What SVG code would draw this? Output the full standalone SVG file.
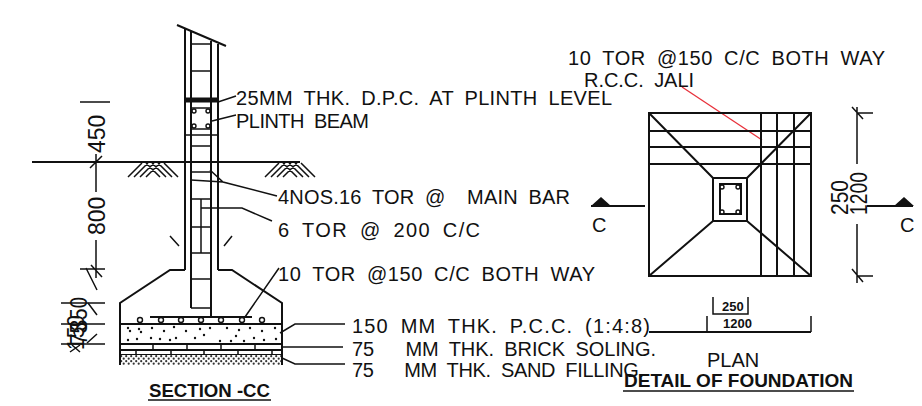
<svg xmlns="http://www.w3.org/2000/svg" width="922" height="406" viewBox="0 0 922 406">
<style>
.t{font-family:"Liberation Sans",Arial,sans-serif;font-size:20px;word-spacing:5px;fill:#111}
.r{font-family:"Liberation Sans",Arial,sans-serif;font-size:23px;fill:#111}
.b{font-family:"Liberation Sans",Arial,sans-serif;font-size:19px;font-weight:700;fill:#111}
.s{font-family:"Liberation Sans",Arial,sans-serif;font-size:13px;font-weight:700;fill:#111}
.l{fill:none;stroke:#111;stroke-width:1.5}
.m{fill:none;stroke:#111;stroke-width:2}
.c{fill:#fff;stroke:#111;stroke-width:1.4}
</style>
<defs>
<pattern id="sand" width="5" height="5" patternUnits="userSpaceOnUse"><rect width="5" height="5" fill="#fff"/><circle cx="1.2" cy="1.2" r="1.1" fill="#333"/><circle cx="3.7" cy="3.7" r="1.1" fill="#333"/></pattern>
<g id="grass"><path class="l" d="M0 14L14 0M6 14L20 0M12 14L26 0M18 14L32 0M18 0L32 14M24 0L38 14M30 0L44 14M36 0L50 14"/></g>
</defs>
<g id="section-wall">
<path class="m" d="M177 25L226 46M185 29V270M191 31V308M211 41V318M218 44V270"/>
<path class="l" d="M191 44H211M191 71H211M185 135H218M191 146H211M191 172H211M191 199H211M191 227H211M191 253H211M191 279H211M191 308H211"/>
<path stroke="#111" stroke-width="5" d="M184 100H219"/>
<path class="l" d="M201 199V253"/>
<path class="l" d="M192 108H210M192 129H210"/>
<circle class="c" cx="194" cy="111" r="2"/><circle class="c" cx="208" cy="111" r="2"/><circle class="c" cx="194" cy="126" r="2"/><circle class="c" cx="208" cy="126" r="2"/>
</g>
<g id="section-footing">
<path class="m" d="M185 270H170L120 303V365M218 270H232L282 303V365M120 324H282M120 344H282M120 350H282M120 355H282M150 317H252"/>
<rect x="120" y="355" width="162" height="10" fill="url(#sand)"/>
<path class="m" d="M120 355V365M282 355V365"/>
<path class="l" d="M153 344V350M187 344V350M221 344V350M255 344V350M136 350V355M171 350V355M204 350V355M238 350V355M272 350V355"/>
<g class="c"><circle cx="140" cy="320" r="2.5"/><circle cx="161" cy="320" r="2.5"/><circle cx="181" cy="320" r="2.5"/><circle cx="201" cy="320" r="2.5"/><circle cx="221" cy="320" r="2.5"/><circle cx="242" cy="320" r="2.5"/><circle cx="262" cy="320" r="2.5"/></g>
<g fill="#111"><circle cx="128" cy="328" r="1.2"/><circle cx="139" cy="329" r="1.2"/><circle cx="152" cy="328" r="1.2"/><circle cx="164" cy="331" r="1.2"/><circle cx="174" cy="327" r="1.2"/><circle cx="186" cy="331" r="1.2"/><circle cx="200" cy="329" r="1.2"/><circle cx="210" cy="328" r="1.2"/><circle cx="227" cy="328" r="1.2"/><circle cx="239" cy="330" r="1.2"/><circle cx="250" cy="328" r="1.2"/><circle cx="262" cy="331" r="1.2"/><circle cx="275" cy="328" r="1.2"/><circle cx="130" cy="331" r="1.2"/><circle cx="141" cy="332" r="1.2"/><circle cx="128" cy="340" r="1.2"/><circle cx="137" cy="339" r="1.2"/><circle cx="151" cy="338" r="1.2"/><circle cx="160" cy="339" r="1.2"/><circle cx="170" cy="340" r="1.2"/><circle cx="176" cy="338" r="1.2"/><circle cx="195" cy="338" r="1.2"/><circle cx="204" cy="335" r="1.2"/><circle cx="220" cy="341" r="1.2"/><circle cx="231" cy="341" r="1.2"/><circle cx="236" cy="336" r="1.2"/><circle cx="244" cy="341" r="1.2"/><circle cx="254" cy="338" r="1.2"/><circle cx="264" cy="340" r="1.2"/><circle cx="276" cy="339" r="1.2"/></g>
<path class="l" d="M170 236L179 246M232 236L224 246"/>
</g>
<g id="ground">
<path class="m" d="M32 162H300"/>
<use href="#grass" x="128" y="163"/>
<use href="#grass" x="265" y="163"/>
</g>
<g id="connectors">
<path class="l" d="M218 102L236 96M212 121L236 115M210 170L223 182L277 196M191 180L223 182M201 208H242L272 221M245 317L279 268M280 333L295 324H345M282 347H343M282 358L295 364H345"/>
<path fill="none" stroke="#e8303a" stroke-width="1.3" d="M682 87L762 140"/>
</g>
<g id="section-dims">
<path class="l" d="M80 102H110M96 154V192M90 168L102 156M96 240V278M80 269H105M86 268L97 290M91 265L102 277M61 303H105M61 324H105M61 344H105"/>
<path class="l" d="M88 303L97 315M97 334L87 343M70 352L80 345M72 345L80 352"/>
<text class="r" transform="translate(105 153) rotate(-90)">450</text>
<text class="r" transform="translate(105 235) rotate(-90)">800</text>
<text class="r" transform="translate(84 350) rotate(-90)" style="font-size:24px" textLength="35" lengthAdjust="spacingAndGlyphs">150</text>
<text class="r" transform="translate(87 345) rotate(-90)" style="font-size:24px" textLength="23" lengthAdjust="spacingAndGlyphs">75</text>
<text class="r" transform="translate(87 331) rotate(-90)" style="font-size:24px" textLength="34" lengthAdjust="spacingAndGlyphs">350</text>
</g>
<g id="section-labels">
<text class="t" x="236" y="105" textLength="376" lengthAdjust="spacing">25MM THK. D.P.C. AT PLINTH LEVEL</text>
<text class="t" x="236" y="128" textLength="133" lengthAdjust="spacing">PLINTH BEAM</text>
<text class="t" x="278" y="204" textLength="292" lengthAdjust="spacing" xml:space="preserve">4NOS.16 TOR @  MAIN BAR</text>
<text class="t" x="278" y="237" textLength="202" lengthAdjust="spacing">6 TOR @ 200 C/C</text>
<text class="t" x="278" y="281" textLength="317" lengthAdjust="spacing">10 TOR @150 C/C BOTH WAY</text>
<text class="t" x="352" y="333" textLength="298" lengthAdjust="spacing">150 MM THK. P.C.C. (1:4:8)</text>
<text class="t" x="352" y="356" textLength="304" lengthAdjust="spacing" xml:space="preserve">75   MM THK. BRICK SOLING.</text>
<text class="t" x="352" y="377" textLength="292" lengthAdjust="spacing" xml:space="preserve">75   MM THK. SAND FILLING.</text>
<text class="b" x="149" y="397" textLength="121" lengthAdjust="spacingAndGlyphs" style="font-size:18px">SECTION -CC</text>
<path class="l" d="M148 400H271"/>
</g>
<g id="plan">
<rect class="m" x="649" y="113" width="162" height="163"/>
<path class="m" d="M649 131H811M649 147H811M649 164H811M761 113V276M777 113V276M794 113V276"/>
<path class="m" d="M649 113L713 178M811 113L747 178M649 276L713 221M811 276L747 221"/>
<rect class="m" x="713" y="178" width="34" height="43"/>
<rect class="m" x="720" y="184" width="21" height="30"/>
<g class="c"><circle cx="722" cy="187" r="2"/><circle cx="738" cy="187" r="2"/><circle cx="722" cy="212" r="2"/><circle cx="738" cy="212" r="2"/></g>
</g>
<g id="plan-dims">
<path class="l" d="M857 113H873M857 276H873M857 107V164M857 224V283M852 107L863 119M852 269L863 282"/>
<path class="m" d="M649 332H811"/>
<path class="l" d="M713 297V314H748V297M707 316V332M811 316V332"/>
<text class="r" transform="translate(848 215) rotate(-90)" style="font-size:24px" textLength="35" lengthAdjust="spacingAndGlyphs">250</text>
<text class="r" transform="translate(867 215) rotate(-90)" style="font-size:24px" textLength="43" lengthAdjust="spacingAndGlyphs">1200</text>
<text class="s" x="722" y="311">250</text>
<text class="s" x="723" y="328">1200</text>
</g>
<g id="section-mark-left">
<path class="m" d="M591 206H645"/><path d="M591 206L601 197L611 206Z" fill="#111"/>
<text class="t" x="592" y="232">C</text>
</g>
<g id="section-mark-right">
<path class="m" d="M867 206H913"/><path d="M894 206L904 197L914 206Z" fill="#111"/>
<text class="t" x="900" y="232">C</text>
</g>
<g id="plan-labels">
<text class="t" x="568" y="65" textLength="317" lengthAdjust="spacing">10 TOR @150 C/C BOTH WAY</text>
<text class="t" x="584" y="87" textLength="110" lengthAdjust="spacing">R.C.C. JALI</text>
<text class="t" x="707" y="367">PLAN</text>
<text class="b" x="624" y="387" textLength="229" lengthAdjust="spacingAndGlyphs">DETAIL OF FOUNDATION</text>
<path class="l" d="M623 391H854"/>
</g>
</svg>
